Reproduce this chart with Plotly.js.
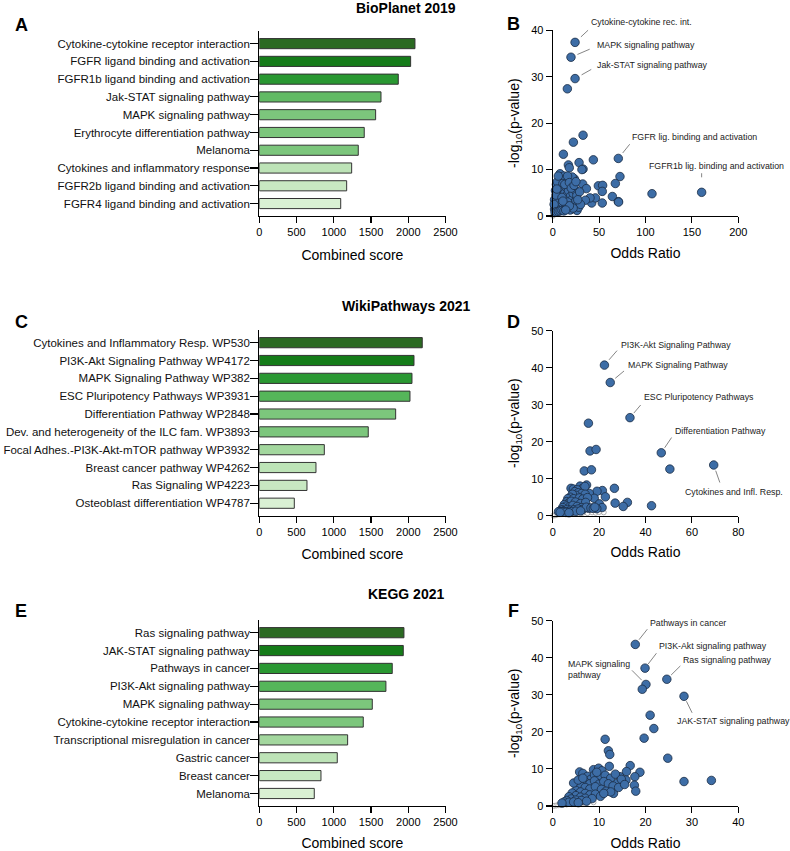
<!DOCTYPE html>
<html><head><meta charset="utf-8">
<script src="https://cdn.plot.ly/plotly-3.0.1.min.js"></script>
<style>body{margin:0;background:#fff}#chart{width:790px;height:851px}</style>
</head><body><div id="chart"></div>
<script>
// ---------------- DATA ----------------
// Panel A – BioPlanet 2019
const bioplanetTerms = ['Cytokine-cytokine receptor interaction','FGFR ligand binding and activation','FGFR1b ligand binding and activation','Jak-STAT signaling pathway','MAPK signaling pathway','Erythrocyte differentiation pathway','Melanoma','Cytokines and inflammatory response','FGFR2b ligand binding and activation','FGFR4 ligand binding and activation'];
const bioplanetScores = [2090,2032,1866,1634,1562,1409,1329,1240,1173,1093];

// Panel B – BioPlanet scatter (labelled points first)
const bioOdds = [24.1,19.7,24.1,70.7,160.5, 15.8,32.7,22.3,11.5,43.8,28.4,16.9,17.9,32.7,31.5,7.9,23.3,72.5,67.5,32.3,36.3,49.2,53.8,53.4,64.3,107,70.7,71,53.4,42,46,40.2,35.2,26.2,
 2,3,4,5,6,7,8,9,10,12,14,15,17,19,21,4,3,5,6,7,8,9,10,11,12,13,14,15,16,17,18,19,20,21,22,23,24,25,26,27,28,29,30,3,5,7,9,11,13,15,17,19,22,6,8,10,12,14,16,18,2,1.5,3.5,4.5,10,11,13,16,18,20,23,25,2.5,4,6,8,10,12,14,27];
const bioLogP = [37.4,34.2,29.6,12.4,5.1, 27.4,17.4,15.9,13.3,12.1,11.5,11.0,10.4,10.1,10.0,9.1,8.0,8.5,7.0,6.9,5.9,6.5,6.6,5.3,4.2,4.8,3.1,3.0,2.8,2.8,3.9,3.9,3.4,1.2,
 1.5,2.2,3.0,4.1,5.0,6.2,7.1,7.8,8.3,8.6,8.0,7.2,6.5,7.8,8.4,6.8,5.5,7.4,8.6,3.5,4.6,5.4,6.2,7.0,5.8,4.9,6.3,3.8,4.7,5.5,3.1,4.2,2.4,3.6,4.9,2.8,5.6,3.3,4.4,2.4,1.9,5.2,2.5,1.2,1.6,1.3,2.1,1.8,2.4,1.5,2.0,1.3,1.7,2.7,3.2,2.9,3.6,2.6,3.0,2.2,3.5,2.5,4.5,5.8,4.0,3.2,6.8,8.6,7.2,6.0,6.6,7.4,0.8,0.9,1.0,1.1,1.2,1.1,1.3,3.5];
const bioNsOdds = [0.3,1,1.5,2,3,4,5,6,8,10,12,14,16,18,22,26];
const bioNsLogP = [0.05,0.3,0.4,0.5,0.6,0.5,0.7,0.6,0.8,0.9,0.8,1.0,1.1,1.0,1.1,1.2];
const bioLabels = ['Cytokine-cytokine rec. int.','MAPK signaling pathway','Jak-STAT signaling pathway','FGFR lig. binding and activation','FGFR1b lig. binding and activation'];

// Panel C – WikiPathways 2021
const wikiTerms = ['Cytokines and Inflammatory Resp. WP530','PI3K-Akt Signaling Pathway WP4172','MAPK Signaling Pathway WP382','ESC Pluripotency Pathways WP3931','Differentiation Pathway WP2848','Dev. and heterogeneity of the ILC fam. WP3893','Focal Adhes.-PI3K-Akt-mTOR pathway WP3932','Breast cancer pathway WP4262','Ras Signaling WP4223','Osteoblast differentiation WP4787'];
const wikiScores = [2188,2077,2050,2023,1831,1463,873,761,640,470];

// Panel D – WikiPathways scatter (labelled points first)
const wikiOdds = [22.3,24.8,33.3,46.8,69.4, 15.4,16.1,18.7,13.6,16.7,50.5,26.6,21.4,19.1,15.8,17.9,22.7,20.1,26.9,32.2,30.4,42.6,21.3,19.0,15.5,
 7.9,8.9,11.8,12.9,14.6,13.9,10.5,9.5,11,12.5,14,10,8.5,7.5,6.5,9,11.5,13,15,6,7,8,9.8,12,14.2,5,5.8,7.2,8.7,10.5,12.5,4.3,4,5,6.3,7.6,9.2,11,13,14.5,3,3.5,2.5,6,8,10,12,16.5,17.5,18.2,4.5,5.5,7,3.2];
const wikiLogP = [40.7,36.0,26.5,17.0,13.7, 25.0,17.5,17.9,12.1,12.4,12.6,7.4,6.8,6.6,6.0,4.7,5.1,3.2,3.4,3.6,2.5,2.7,2.2,1.9,2.0,
 7.4,7.2,8.0,7.4,8.3,7.9,7.0,6.5,6.2,6.0,5.8,5.5,5.8,5.0,4.6,4.6,4.8,4.5,4.9,3.8,3.5,3.9,3.7,3.3,3.6,3.0,2.6,2.4,2.8,2.5,2.2,2.2,1.6,1.4,1.7,1.5,1.6,1.8,1.7,2.3,1.2,1.0,1.1,1.1,1.1,1.2,1.3,2.1,2.0,2.3,1.1,0.9,0.8,0.9];
const wikiNsOdds = [0.3,1,2,3,4,5,6,8,10,12,13,15,17,18.5,20,22];
const wikiNsLogP = [0.05,0.1,0.3,0.4,0.4,0.5,0.4,0.6,0.6,0.5,0.8,0.7,0.9,0.8,1.0,0.9];
const wikiLabels = ['PI3K-Akt Signaling Pathway','MAPK Signaling Pathway','ESC Pluripotency Pathways','Differentiation Pathway','Cytokines and Infl. Resp.'];

// Panel E – KEGG 2021
const keggTerms = ['Ras signaling pathway','JAK-STAT signaling pathway','Pathways in cancer','PI3K-Akt signaling pathway','MAPK signaling pathway','Cytokine-cytokine receptor interaction','Transcriptional misregulation in cancer','Gastric cancer','Breast cancer','Melanoma'];
const keggScores = [1942,1933,1785,1700,1517,1396,1186,1047,828,738];

// Panel F – KEGG scatter (labelled points first)
const keggOdds = [17.8,19.9,24.6,20.1,28.3, 19.3,21.0,21.8,19.7,11.3,12.0,12.3,24.8,12.2,16.7,18.8,28.3,34.2,5.8,6.5,8.8,9.9,10.6,15.9,17.7,17.6,17.9,15.8,14.5,13.8,13.1,
 7.5,8.2,9.0,10.2,11.3,12.5,13.5,7,8,9,10,11,12,13,14.2,6,7,8,9.2,10.5,11.5,12.5,5,6,7,8,9.2,10.3,11,4.2,5,6,7,8.5,3.5,4,5,6.2,7.3,3,2.5,3.5,4.5,5.5,2,4.5,5.5,6.5,14.8,15.5,9.5];
const keggLogP = [43.6,37.2,34.2,32.8,29.6, 31.5,24.5,20.9,18.3,18.0,14.9,13.9,12.9,10.7,10.9,9.1,6.6,6.9,9.2,8.8,9.8,10.2,9.5,9.3,7.9,5.6,4.0,7.0,7.9,6.1,3.4,
 8.0,7.2,8.4,7.6,8.3,7.5,8.6,6.5,6.0,6.8,5.9,6.6,6.0,5.4,5.0,5.5,5.0,4.6,5.2,4.5,4.0,3.8,4.2,3.8,3.4,3.0,3.2,2.6,3.4,3.5,2.8,2.4,2.1,2.0,2.5,1.9,1.6,1.5,1.3,1.5,1.1,1.0,1.1,0.9,0.8,6.2,7.0,7.5,7.2,5.8,9.1];
const keggNsOdds = [0.3,0.8,1.2,1.7,2.3,3,4,5,6,7,8.8];
const keggNsLogP = [0.05,0.15,0.2,0.3,0.35,0.4,0.5,0.5,0.6,0.6,1.0];
const keggLabels = ['Pathways in cancer','PI3K-Akt signaling pathway','Ras signaling pathway','MAPK signaling<br>pathway','JAK-STAT signaling pathway'];

// ---------------- STYLE ----------------
const FONT = 'Liberation Sans, Arial, Helvetica, sans-serif';
const greensA = ['#2b6a22','#157c19','#2a9832','#62ba64','#7cc67c','#7cc67c','#7cc67c','#bde3b7','#c8e8c2','#d9f0d3'];
const greensC = ['#2b6a22','#157c19','#2a9832','#55b65a','#7cc67c','#7cc67c','#a3d79e','#bde3b7','#c8e8c2','#d9f0d3'];
const greensE = ['#2b6a22','#157c19','#2a9832','#55b65a','#7cc67c','#7cc67c','#a3d79e','#bde3b7','#c8e8c2','#d9f0d3'];
const W = 790, H = 851;
const xd = (a,b) => [a/W, b/W];
const yd = (top,bottom) => [1-bottom/H, 1-top/H];

function barTrace(terms, scores, colors, n) {
  return {type:'bar', orientation:'h', y:terms, x:scores, xaxis:'x'+n, yaxis:'y'+n,
    marker:{color:colors, line:{color:'#333', width:1}}, hoverinfo:'none'};
}
function sigTrace(xs, ys, n) {
  return {type:'scatter', mode:'markers', x:xs, y:ys, xaxis:'x'+n, yaxis:'y'+n, cliponaxis:false,
    marker:{size:8.5, color:'#3d6da6', line:{color:'#1a2c44', width:0.8}}, hoverinfo:'none'};
}
function nsTrace(xs, ys, n) {
  return {type:'scatter', mode:'markers', x:xs, y:ys, xaxis:'x'+n, yaxis:'y'+n, cliponaxis:false,
    marker:{size:5, color:'#ffffff', line:{color:'#999', width:0.8}}, hoverinfo:'none'};
}

const axBase = {showline:true, linecolor:'#000', linewidth:1.1, ticks:'outside', tickcolor:'#000', tickwidth:1.1,
  showgrid:false, zeroline:false, fixedrange:true, tickfont:{family:FONT, size:11, color:'#000'}};

function barX(dom, n) {
  return Object.assign({}, axBase, {domain:dom, anchor:'y'+n, range:[0,2500], tickvals:[0,500,1000,1500,2000,2500], ticklen:6,
    title:{text:'Combined score', font:{family:FONT, size:14, color:'#000'}, standoff:12}});
}
function barY(dom, n) {
  return Object.assign({}, axBase, {domain:dom, anchor:'x'+n, type:'category', range:[9.7,-0.71], ticklen:8,
    ticklabelstandoff:-2, tickfont:{family:FONT, size:11.5, color:'#111'}});
}
function scX(dom, n, max, dt) {
  return Object.assign({}, axBase, {domain:dom, anchor:'y'+n, range:[0,max], dtick:dt, ticklen:6,
    title:{text:'Odds Ratio', font:{family:FONT, size:14, color:'#000'}, standoff:10}});
}
function scY(dom, n, max) {
  return Object.assign({}, axBase, {domain:dom, anchor:'x'+n, range:[0,max], dtick:10, ticklen:6,
    title:{text:'-log<sub>10</sub>(p-value)', font:{family:FONT, size:14, color:'#000'}, standoff:8}});
}

const data = [
  barTrace(bioplanetTerms, bioplanetScores, greensA, ''),
  nsTrace(bioNsOdds, bioNsLogP, 2), sigTrace(bioOdds, bioLogP, 2),
  barTrace(wikiTerms, wikiScores, greensC, 3),
  nsTrace(wikiNsOdds, wikiNsLogP, 4), sigTrace(wikiOdds, wikiLogP, 4),
  barTrace(keggTerms, keggScores, greensE, 5),
  nsTrace(keggNsOdds, keggNsLogP, 6), sigTrace(keggOdds, keggLogP, 6)
];

const BX = xd(259.3, 445.5), SX = xd(552.7, 738.3);
const layout = {
  width:W, height:H, margin:{l:0,r:0,t:0,b:0}, showlegend:false,
  paper_bgcolor:'#fff', plot_bgcolor:'rgba(0,0,0,0)', bargap:0.43,
  font:{family:FONT, color:'#000'},
  xaxis: barX(BX, ''), yaxis: barY(yd(31,216), ''),
  xaxis2: scX(SX, 2, 200, 50), yaxis2: scY(yd(30.3,216), 2, 40),
  xaxis3: barX(BX, 3), yaxis3: barY(yd(330,515.7), 3),
  xaxis4: scX(SX, 4, 80, 20), yaxis4: scY(yd(330.7,515.7), 4, 50),
  xaxis5: barX(BX, 5), yaxis5: barY(yd(620,806), 5),
  xaxis6: scX(SX, 6, 40, 10), yaxis6: scY(yd(620.7,806), 6, 50),
  annotations: []
};

// panel titles and letters
const paperText = [
  ['<b>BioPlanet 2019</b>', 406, 8, 14, 'center'],
  ['<b>WikiPathways 2021</b>', 406, 306, 14, 'center'],
  ['<b>KEGG 2021</b>', 406, 593.5, 14, 'center'],
  ['<b>A</b>', 21, 25, 18, 'center'], ['<b>B</b>', 513, 24, 18, 'center'],
  ['<b>C</b>', 21, 322, 18, 'center'], ['<b>D</b>', 513, 322, 18, 'center'],
  ['<b>E</b>', 21, 611, 18, 'center'], ['<b>F</b>', 513, 610.5, 18, 'center']
];
paperText.forEach(p => layout.annotations.push({xref:'paper', yref:'paper', x:p[1]/W, y:1-p[2]/H, text:p[0],
  showarrow:false, xanchor:p[4], yanchor:'middle', font:{family:FONT, size:p[3], color:'#000'}}));

// leader-line labels: [tailDx, tailDy, standoff, textAnchor, textDx, textDy]
const geoB = [[15,-14,8,'left',14,20.6],[20.7,-8.9,7,'left',23.7,12.2],[18.2,-10.3,7.5,'left',19.6,13.6],[13.4,-16.7,7,'left',12,21.7],[0,-21.6,15,'center',14.7,26.3]];
const geoD = [[14.6,-16.8,7,'left',14.3,20.1],[15.8,-13.2,6.5,'left',16.1,17.5],[12.7,-15,6,'left',12.3,20.7],[12,-17.8,6,'left',11.7,21.8],[7,20,6,'center',20.3,-26.7]];
const geoF = [[14,-17.7,6,'left',12.7,21.1],[13.3,-17.4,5,'left',12.3,22.1],[15.5,-15.3,6,'left',14.5,19.3],[-16,-16.1,6,'left',-80.3,14.7],[9.3,19,5.5,'left',-8.7,-24.7]];

function addLabels(xs, ys, labels, geo, n) {
  labels.forEach((txt, i) => {
    const g = geo[i];
    layout.annotations.push({xref:'x'+n, yref:'y'+n, x:xs[i], y:ys[i], ax:g[0], ay:g[1], showarrow:true,
      arrowhead:0, arrowwidth:0.8, arrowcolor:'#666', standoff:g[2], text:'.', font:{size:2, color:'rgba(0,0,0,0)'}});
    layout.annotations.push({xref:'x'+n, yref:'y'+n, x:xs[i], y:ys[i], showarrow:false, text:txt, align:'left',
      xanchor:g[3], yanchor:'middle', xshift:g[4], yshift:g[5], font:{family:FONT, size:8.8, color:'#222'}});
  });
}
addLabels(bioOdds, bioLogP, bioLabels, geoB, 2);
addLabels(wikiOdds, wikiLogP, wikiLabels, geoD, 4);
addLabels(keggOdds, keggLogP, keggLabels, geoF, 6);

Plotly.newPlot('chart', data, layout, {displayModeBar:false, staticPlot:true});
</script>
</body></html>
